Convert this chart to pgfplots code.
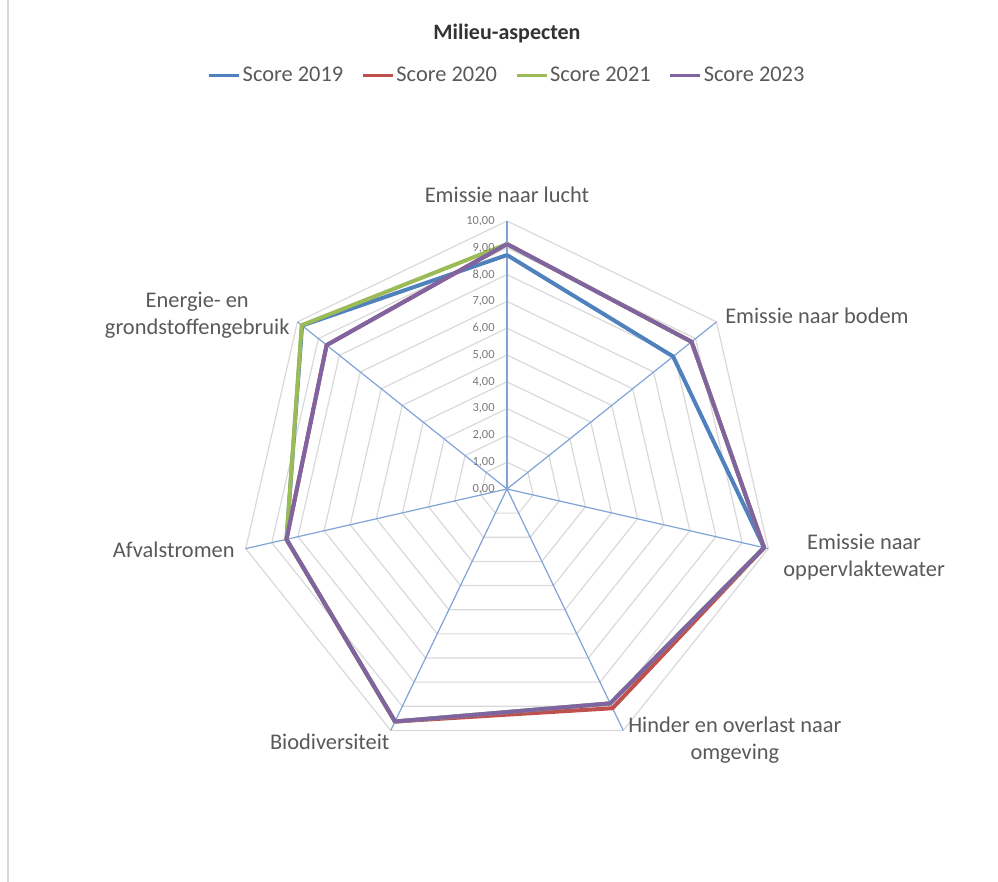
\documentclass[border=0pt]{standalone}
\usepackage{pgfplots}
\pgfplotsset{compat=1.18}
\usepackage{fontspec}
\setmainfont{Carlito}
\definecolor{c2019}{HTML}{4F81BD}
\definecolor{c2020}{HTML}{C0504D}
\definecolor{c2021}{HTML}{9BBB59}
\definecolor{c2023}{HTML}{8064A2}
\definecolor{spoke}{HTML}{7FA3D6}
\definecolor{gridc}{HTML}{D9D9D9}
\definecolor{txt}{HTML}{595959}
\begin{document}
\begin{tikzpicture}
\path[use as bounding box] (-253.5pt,-196.5pt) rectangle (245.5pt,244.5pt);
\draw[gridc,line width=0.8pt] (-249.5pt,-196.5pt) -- (-249.5pt,244.5pt);
\begin{axis}[
  at={(0pt,0pt)}, anchor=center,
  x=13.4pt, y=13.4pt,
  xmin=-10, xmax=10, ymin=-10, ymax=10,
  hide axis, clip=false,
  legend columns=4,
  legend style={at={(0.5,1.271)}, anchor=center, draw=none, fill=none,
    font=\fontsize{11.2}{13}\selectfont\color{txt},
    nodes={inner xsep=1pt, inner ysep=0pt},
    /tikz/every even column/.append style={column sep=8pt},
    inner sep=0pt},
  legend image code/.code={\draw[#1,line width=1.6pt] (0pt,0pt) -- (15pt,0pt);},
]
% grid heptagons
\pgfplotsinvokeforeach{1,...,10}{
  \addplot[gridc, line width=0.6pt, data cs=polar, forget plot] coordinates {
    (90,#1) (38.5714,#1) (-12.8571,#1) (-64.2857,#1) (-115.7143,#1) (-167.1429,#1) (141.4286,#1) (90,#1)};
}
% spokes
\pgfplotsinvokeforeach{90,38.5714,-12.8571,-64.2857,-115.7143,-167.1429,141.4286}{
  \addplot[spoke, line width=0.6pt, data cs=polar, forget plot] coordinates {(#1,0) (#1,10)};
}
% series
\addplot[c2019, line width=2pt, data cs=polar, line join=round] coordinates {
  (90,8.73) (38.5714,7.93) (-12.8571,9.84) (-64.2857,8.88) (-115.7143,9.63) (-167.1429,8.44) (141.4286,9.78) (90,8.73)};
\addlegendentry{Score 2019}
\addplot[c2020, line width=2pt, data cs=polar, line join=round] coordinates {
  (90,9.14) (38.5714,8.81) (-12.8571,9.84) (-64.2857,9.08) (-115.7143,9.63) (-167.1429,8.44) (141.4286,8.61) (90,9.14)};
\addlegendentry{Score 2020}
\addplot[c2021, line width=2pt, data cs=polar, line join=round] coordinates {
  (90,9.14) (38.5714,8.81) (-12.8571,9.84) (-64.2857,8.88) (-115.7143,9.63) (-167.1429,8.44) (141.4286,9.80) (90,9.14)};
\addlegendentry{Score 2021}
\addplot[c2023, line width=2pt, data cs=polar, line join=round] coordinates {
  (90,9.14) (38.5714,8.81) (-12.8571,9.84) (-64.2857,8.88) (-115.7143,9.63) (-167.1429,8.44) (141.4286,8.61) (90,9.14)};
\addlegendentry{Score 2023}
% tick labels
\pgfplotsinvokeforeach{0,...,10}{
  \node[anchor=east, inner sep=0pt, text=txt!80, font=\fontsize{6.2}{7}\selectfont] at (axis cs:-0.45,#1) {#1,00};
}
% category labels
\begin{scope}[every node/.style={text=txt, font=\fontsize{11.2}{13.3}\selectfont, inner sep=0pt, align=center}]
\node[anchor=center] at (axis cs:0,10.97) {Emissie naar lucht};
\node[anchor=west] at (axis cs:8.13,6.46) {Emissie naar bodem};
\node[anchor=west] at (axis cs:10.3,-2.54) {Emissie naar\\oppervlaktewater};
\node[anchor=west] at (axis cs:4.51,-9.37) {Hinder en overlast naar\\omgeving};
\node[anchor=east] at (axis cs:-4.37,-9.44) {Biodiversiteit};
\node[anchor=east] at (axis cs:-10.15,-2.28) {Afvalstromen};
\node[anchor=east] at (axis cs:-8.1,6.49) {Energie- en\\grondstoffengebruik};
\end{scope}
\node[anchor=center, font=\bfseries\fontsize{11}{12}\selectfont, text=black!80] at (axis cs:0,17.0) {Milieu-aspecten};
\end{axis}
\end{tikzpicture}
\end{document}
